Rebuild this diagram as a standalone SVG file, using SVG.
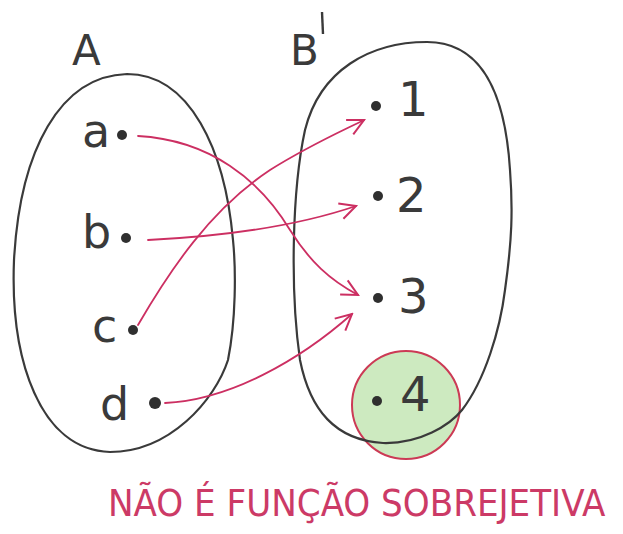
<svg xmlns="http://www.w3.org/2000/svg" width="623" height="534" viewBox="0 0 623 534">
<defs>
<style>
.set{fill:none;stroke:#3a3a3a;stroke-width:2.2}
.lbl{font-family:"DejaVu Sans","Liberation Sans",sans-serif;fill:#3a3a3a;font-weight:normal}
.dot{fill:#2f2f2f}
.arr{fill:none;stroke:#cc2f62;stroke-width:1.8;stroke-linecap:round}
.note{font-family:"DejaVu Sans Condensed","DejaVu Sans",sans-serif;fill:#cc3a66}
</style>
<marker id="ah" viewBox="0 0 20 20" refX="18" refY="10" markerWidth="20" markerHeight="20" markerUnits="userSpaceOnUse" orient="auto">
<path d="M2,2 L18,10 L2,18" fill="none" stroke="#cc2f62" stroke-width="2"/>
</marker>
</defs>
<rect width="623" height="534" fill="#ffffff"/>
<g id="highlight4">
<circle cx="406" cy="405" r="54" fill="#cdeac0" stroke="#cc3a55" stroke-width="2"/>
</g>
<g id="setA">
<path class="set" d="M127,74 C60,76 20,150 14,260 C10,360 40,450 110,452 C170,452 215,400 228,360 C236,320 236,270 233,240 C225,150 190,74 127,74 Z"/>
<text class="lbl" x="72" y="65" font-size="42">A</text>
</g>
<g id="setB">
<path class="set" d="M427,42 C370,42 320,70 305,130 C292,190 290,290 300,360 C310,410 335,440 383,443 C420,444 450,425 462,410 C485,380 500,330 505,290 C512,240 513,210 510,170 C505,90 480,42 427,42 Z"/>
<text class="lbl" x="290" y="65" font-size="42">B</text>
<path d="M322,12 L323,34" stroke="#3a3a3a" stroke-width="2.4" fill="none"/>
</g>
<g id="node-a"><circle class="dot" cx="122" cy="135" r="5"/><text class="lbl" x="82" y="147" font-size="46">a</text></g>
<g id="node-b"><circle class="dot" cx="126" cy="238" r="5"/><text class="lbl" x="82" y="248" font-size="46">b</text></g>
<g id="node-c"><circle class="dot" cx="133" cy="330" r="5"/><text class="lbl" x="92" y="342" font-size="46">c</text></g>
<g id="node-d"><circle class="dot" cx="155" cy="403" r="6"/><text class="lbl" x="100" y="420" font-size="46">d</text></g>
<g id="node-1"><circle class="dot" cx="376" cy="106" r="5"/><text class="lbl" x="398" y="116" font-size="48">1</text></g>
<g id="node-2"><circle class="dot" cx="378" cy="196" r="5"/><text class="lbl" x="396" y="212" font-size="48">2</text></g>
<g id="node-3"><circle class="dot" cx="378" cy="298" r="5"/><text class="lbl" x="398" y="313" font-size="48">3</text></g>
<g id="node-4"><circle class="dot" cx="377" cy="401" r="5"/><text class="lbl" x="400" y="411" font-size="48">4</text></g>
<g id="connectors">
<path class="arr" marker-end="url(#ah)" d="M138,136 C210,140 260,180 290,230 C310,262 330,280 358,295"/>
<path class="arr" marker-end="url(#ah)" d="M148,240 C230,236 300,225 356,206"/>
<path class="arr" marker-end="url(#ah)" d="M138,325 C170,270 210,210 270,170 C310,145 340,132 364,120"/>
<path class="arr" marker-end="url(#ah)" d="M165,403 C230,400 300,360 352,314"/>
</g>
<g id="note">
<text class="note" x="108" y="516" font-size="38">NÃO É FUNÇÃO SOBREJETIVA</text>
</g>
</svg>
